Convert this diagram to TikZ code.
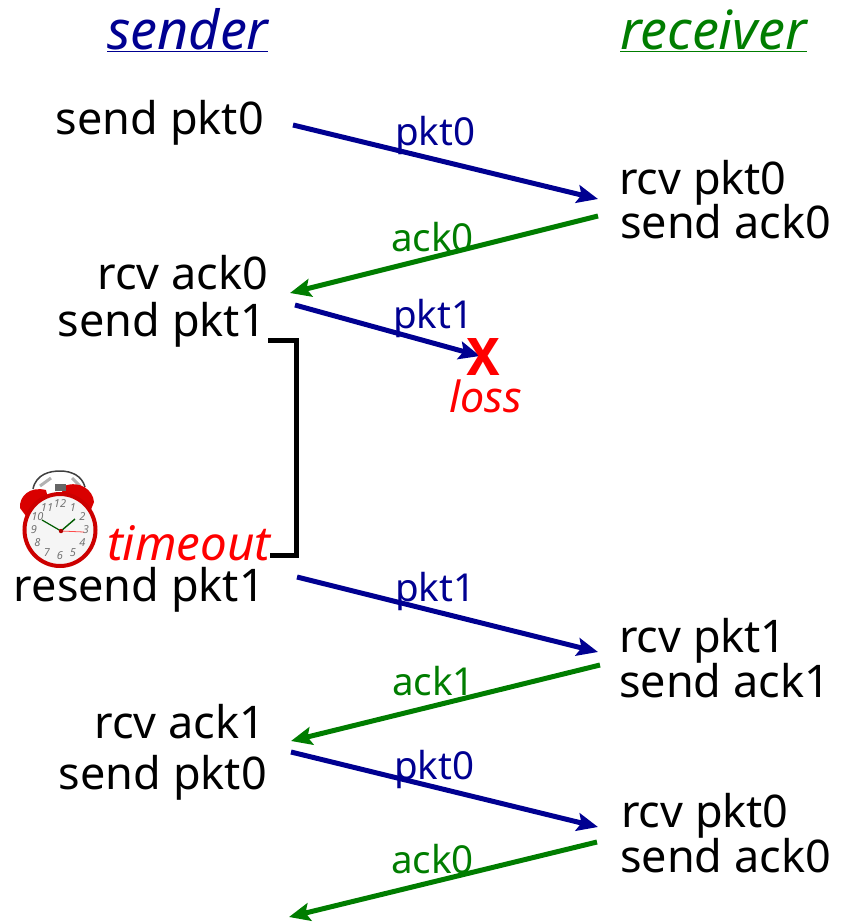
\documentclass[tikz,border=0pt]{standalone}
\usepackage{fontspec}
\setmainfont{Noto Sans}
\newfontfamily\markfont{Liberation Sans}
\usetikzlibrary{positioning}
\usetikzlibrary{calc}
\usetikzlibrary{arrows.meta}
\definecolor{pktblue}{RGB}{0,0,145}
\definecolor{ackgreen}{RGB}{0,125,0}

\begin{document}
\begin{tikzpicture}[x=1pt,y=-1pt,
txt/.style={inner sep=0pt,font=\fontsize{45}{48}\selectfont},
snd/.style={txt,anchor=base east},
rcv/.style={txt,anchor=base west},
lab/.style={inner sep=0pt,anchor=base west,font=\fontsize{38.5}{40}\selectfont},
title/.style={inner sep=0pt,anchor=base west,font=\fontsize{54}{56}\selectfont\itshape},
pkt/.style={draw=pktblue,line width=5pt,-{Stealth[length=21pt,width=18pt,inset=4pt]}},
ack/.style={draw=ackgreen,line width=5pt,-{Stealth[length=21pt,width=18pt,inset=4pt]}},
bell/.style={fill=red!85!black}
]
\useasboundingbox (0,0) rectangle (851,922);

% titles
\node[title,text=pktblue] (sender) at (107,49) {\underline{sender}};
\node[title,text=ackgreen] (receiver) at (620,49) {\underline{receiver}};

% sender side
\node[snd] (s1) at (264,134) {send pkt0};
\node[snd] (s2) at (268,289) {rcv ack0};
\node[snd] (s3) at (266,336) {send pkt1};
\node[snd] (s4) at (265,601) {resend pkt1};
\node[snd] (s5) at (265,738) {rcv ack1};
\node[snd] (s6) at (267,789) {send pkt0};

% receiver side
\node[rcv] (r1) at (619,194) {rcv pkt0};
\node[rcv] (r2) at (620,238) {send ack0};
\node[rcv] (r3) at (619,652) {rcv pkt1};
\node[rcv] (r4) at (619,697) {send ack1};
\node[rcv] (r5) at (621,827) {rcv pkt0};
\node[rcv] (r6) at (620,872) {send ack0};

% arrow ends
\coordinate (a1) at (293,125);
\coordinate (b1) at (598,199);
\coordinate (a2) at (598,216);
\coordinate (b2) at (290,293);
\coordinate (a3) at (295,305);
\coordinate (b3) at (480,356);
\coordinate (a4) at (297,577);
\coordinate (b4) at (598,652);
\coordinate (a5) at (600,665);
\coordinate (b5) at (291,741);
\coordinate (a6) at (291,752);
\coordinate (b6) at (598,827);
\coordinate (a7) at (597,842);
\coordinate (b7) at (289,917);

\draw[pkt] (a1) -- (b1);
\draw[ack] (a2) -- (b2);
\draw[pkt] (a3) -- (b3);
\draw[pkt] (a4) -- (b4);
\draw[ack] (a5) -- (b5);
\draw[pkt] (a6) -- (b6);
\draw[ack] (a7) -- (b7);

% message labels
\node[lab,text=pktblue] (l1) at (395,145) {pkt0};
\node[lab,text=ackgreen] (l2) at (391,251) {ack0};
\node[lab,text=pktblue] (l3) at (393,328) {pkt1};
\node[lab,text=pktblue] (l4) at (395,601) {pkt1};
\node[lab,text=ackgreen] (l5) at (392,695) {ack1};
\node[lab,text=pktblue] (l6) at (394,779) {pkt0};
\node[lab,text=ackgreen] (l7) at (391,873) {ack0};

% loss mark
\node[inner sep=0pt,anchor=base,text=red,font=\fontsize{70}{70}\markfont\bfseries] (x) at (483,375) {\scalebox{.87}[1]{x}};
\node[lab,text=red,font=\fontsize{43}{46}\selectfont\itshape] (loss) at (449,412) {loss};

% timer bracket
\coordinate (t1) at (268,340);
\coordinate (t2) at (270,555);
\draw[line width=5pt,miter limit=10] (t1) -- (296,340) -- (296,555) -- (t2);
\node[lab,text=red,font=\fontsize{47.5}{50}\selectfont\itshape] (timeout) at (107,560) {timeout};

% clock
\draw[line width=1.5pt,black!75] (33,489) .. controls (36,474) and (50,471) .. (60,471) .. controls (72,471) and (82,476) .. (85,487);
\draw[line width=3pt,black!30] (40,486) -- (51,478);
\draw[line width=3pt,black!30] (80,486) -- (72,478);
\fill[bell] (20,508) .. controls (19,496) and (30,486) .. (46,490) -- (48,498) -- (26,516) -- cycle;
\fill[bell] (94,502) .. controls (93,490) and (80,480) .. (64,486) -- (62,492) -- (90,512) -- cycle;
\fill[black!60] (55,484) rectangle (66,491);
\draw[draw=red!80!black,line width=4pt,fill=black!4] (60,530) ellipse (35.5 and 36);
\foreach \h/\a in {12/90,1/60,2/30,3/0,4/-30,5/-60,6/-90,7/-120,8/-150,9/180,10/150,11/120}
  \node[inner sep=0pt,text=black!55,font=\fontsize{11}{11}\selectfont\itshape] (n\h) at ({60+26*cos(\a)},{530-26*sin(\a)}) {\h};
\coordinate (hub) at (61,531);
\draw[line width=1.2pt,black!40!green!60!black] (hub) -- (42,520);
\draw[line width=1.4pt,black!40!green!60!black] (hub) -- (75,519);
\draw[line width=.8pt,red!70] (hub) -- (84,532);
\fill[red!70!black] (hub) circle (2.2);
\end{tikzpicture}
\end{document}
